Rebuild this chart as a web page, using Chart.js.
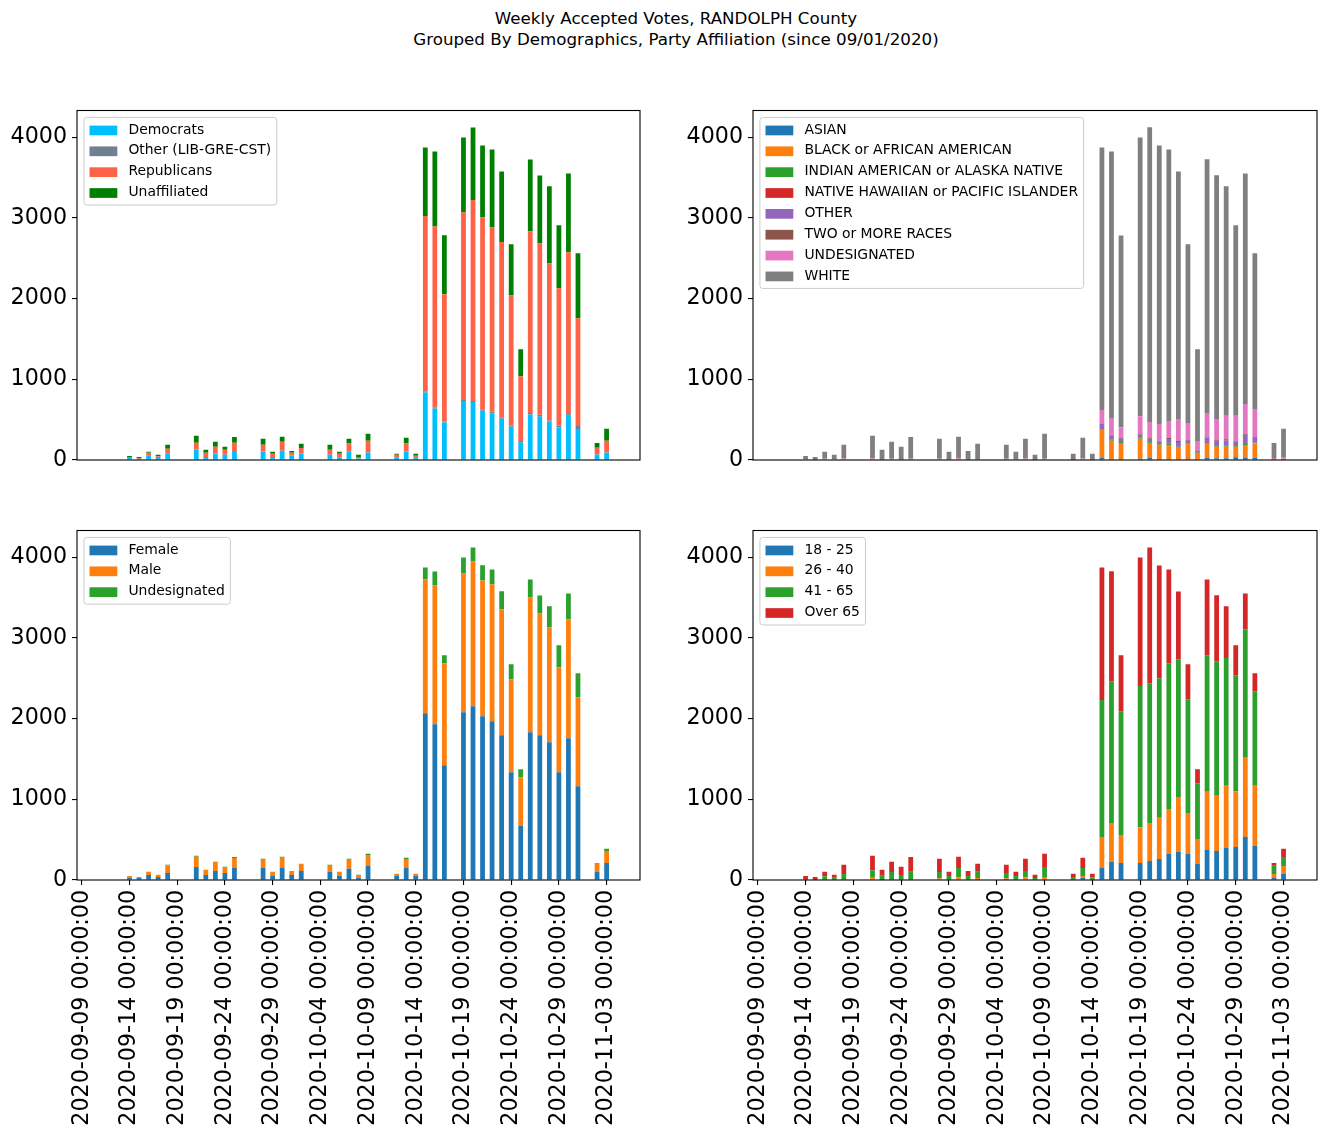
<!DOCTYPE html>
<html><head><meta charset="utf-8">
<script src="https://cdn.jsdelivr.net/npm/chart.js@4.4.0/dist/chart.umd.min.js"></script>
<style>
html,body{margin:0;padding:0;background:#fff;}
#fig{position:relative;width:1326px;height:1137px;overflow:hidden;background:#fff;font-family:"DejaVu Sans";}
canvas{position:absolute;}
.title{position:absolute;left:13px;width:1326px;text-align:center;font-size:16.7px;line-height:20px;color:#000;white-space:nowrap;}
</style></head><body>
<div id="fig">
<div class="title" style="top:8px">Weekly Accepted Votes, RANDOLPH County</div>
<div class="title" style="top:29px">Grouped By Demographics, Party Affiliation (since 09/01/2020)</div>
<canvas id="c1" width="663" height="440" style="left:0;top:50px"></canvas>
<canvas id="c2" width="663" height="440" style="left:663px;top:50px"></canvas>
<canvas id="c3" width="663" height="647" style="left:0;top:490px"></canvas>
<canvas id="c4" width="663" height="647" style="left:663px;top:490px"></canvas>
</div>
<script>
// ---------- DATA ----------
const startDate = "2020-09-09";
const dates = [
 "2020-09-14","2020-09-15","2020-09-16","2020-09-17","2020-09-18",
 "2020-09-21","2020-09-22","2020-09-23","2020-09-24","2020-09-25",
 "2020-09-28","2020-09-29","2020-09-30","2020-10-01","2020-10-02",
 "2020-10-05","2020-10-06","2020-10-07","2020-10-08","2020-10-09",
 "2020-10-12","2020-10-13","2020-10-14","2020-10-15","2020-10-16","2020-10-17",
 "2020-10-19","2020-10-20","2020-10-21","2020-10-22","2020-10-23","2020-10-24","2020-10-25",
 "2020-10-26","2020-10-27","2020-10-28","2020-10-29","2020-10-30","2020-10-31",
 "2020-11-02","2020-11-03"];
const xTickDays = [0,5,10,15,20,25,30,35,40,45,50,55];
const xTickLabels = ["2020-09-09 00:00:00","2020-09-14 00:00:00","2020-09-19 00:00:00","2020-09-24 00:00:00",
 "2020-09-29 00:00:00","2020-10-04 00:00:00","2020-10-09 00:00:00","2020-10-14 00:00:00",
 "2020-10-19 00:00:00","2020-10-24 00:00:00","2020-10-29 00:00:00","2020-11-03 00:00:00"];
const yTicks = [0,1000,2000,3000,4000];

// Party
const partyLabels = ["Democrats","Other (LIB-GRE-CST)","Republicans","Unaffiliated"];
const democrats = [25,15,60,24,85, 130,36,82,64,110, 106,36,114,56,81, 64,28,106,20,90, 33,106,28,837,639,466, 730,718,610,577,511,412,219, 565,536,478,404,561,384, 66,90];
const otherParty = [0,0,1,0,1, 2,1,1,1,2, 1,0,2,1,1, 1,0,1,0,2, 0,1,0,12,12,8, 12,12,16,20,16,16,16, 16,25,8,21,21,37, 1,4];
const republicans = [11,11,29,24,53, 82,53,81,61,101, 82,40,110,32,68, 61,50,98,16,148, 31,96,24,2173,2243,1580, 2326,2491,2380,2286,2174,1613,804, 2252,2124,1951,1703,1992,1336, 85,144];
const unaffiliated = [14,12,13,16,49, 86,36,61,37,72, 73,25,62,24,52, 62,25,57,28,86, 12,74,24,850,929,730, 928,899,891,965,874,631,334, 891,841,953,779,977,804, 60,148];

// Race
const raceLabels = ["ASIAN","BLACK or AFRICAN AMERICAN","INDIAN AMERICAN or ALASKA NATIVE","NATIVE HAWAIIAN or PACIFIC ISLANDER","OTHER","TWO or MORE RACES","UNDESIGNATED","WHITE"];
const asian = [0,0,0,0,0, 0,0,0,0,0, 0,0,0,0,0, 0,0,0,0,0, 0,0,0,25,12,12, 16,25,12,12,12,12,8, 25,21,21,33,25,25, 2,4];
const black = [8,2,8,6,12, 14,4,8,4,6, 10,4,14,4,4, 6,6,10,2,10, 4,10,2,346,227,198, 247,186,173,173,140,190,78, 177,144,144,132,161,181, 6,12];
const indian = [0,0,0,0,0, 0,0,0,0,0, 0,0,0,0,0, 0,0,0,0,0, 0,0,0,8,12,12, 12,8,8,16,12,8,4, 8,8,12,8,12,8, 0,0];
const hawaiian = [0,0,0,0,0, 0,0,0,0,0, 0,0,0,0,0, 0,0,0,0,0, 0,0,0,1,1,0, 1,1,1,1,1,0,0, 1,1,1,1,1,1, 0,0];
const otherRace = [0,0,0,0,0, 0,0,0,0,2, 0,0,0,0,0, 0,0,2,0,0, 0,0,0,66,54,41, 41,41,37,58,58,29,21, 70,66,66,58,111,58, 0,0];
const twoPlus = [0,0,0,0,0, 0,0,0,0,0, 0,0,0,0,0, 0,0,0,0,0, 0,0,0,4,8,12, 12,8,8,12,12,8,4, 8,8,12,8,8,8, 0,0];
const undesRace = [2,0,6,2,8, 4,4,6,2,6, 6,6,10,4,4, 8,4,8,2,4, 0,8,0,169,206,132, 214,202,206,210,272,210,120, 285,260,293,309,375,351, 16,20];
const white = [40,36,89,56,168, 282,118,211,157,271, 246,91,264,105,194, 174,93,242,60,312, 72,259,74,3254,3303,2375, 3452,3650,3452,3365,3068,2215,1138, 3151,3019,2841,2359,2858,1930, 188,350];

// Gender
const genderLabels = ["Female","Male","Undesignated"];
const female = [25,24,62,38,87, 162,63,112,87,148, 150,50,150,62,112, 100,50,138,25,174, 50,150,50,2066,1930,1423, 2078,2153,2029,1967,1794,1336,668, 1831,1794,1707,1336,1757,1163, 100,210];
const male = [25,14,41,26,93, 126,63,112,75,125, 100,51,126,50,88, 76,52,112,27,136, 26,102,26,1658,1720,1262, 1720,1794,1683,1695,1559,1151,606, 1670,1509,1423,1299,1472,1101, 100,140];
const undesGender = [0,0,0,0,8, 12,0,1,1,12, 12,0,12,1,2, 12,1,12,12,16, 0,25,0,148,173,99, 198,173,186,186,223,186,99, 223,223,260,272,322,297, 12,36];

// Age
const ageLabels = ["18 - 25","26 - 40","41 - 65","Over 65"];
const age18 = [0,0,4,2,4, 8,2,4,2,4, 6,2,6,2,4, 4,4,6,4,8, 2,25,4,148,223,210, 210,235,260,326,346,326,202, 371,359,396,408,532,421, 25,74];
const age26 = [2,0,4,4,4, 20,2,8,4,8, 16,4,24,6,20, 16,8,26,4,30, 6,25,4,384,483,346, 445,470,511,553,672,503,305, 722,685,771,693,982,746, 50,99];
const age41 = [8,4,37,22,66, 90,48,88,55,90, 78,45,120,42,78, 66,38,80,18,124, 28,100,22,1699,1757,1534, 1749,1732,1728,1806,1716,1410,693, 1691,1666,1584,1435,1592,1171, 100,111];
const age65 = [40,34,58,36,114, 182,74,125,102,183, 162,50,138,63,100, 102,53,150,38,164, 40,127,46,1641,1361,693, 1592,1683,1398,1163,841,433,173, 940,817,639,371,445,223, 37,102];

const partyColors = ["#00BFFF","#708090","#FF6347","#008000"];
const tab10 = ["#1f77b4","#ff7f0e","#2ca02c","#d62728","#9467bd","#8c564b","#e377c2","#7f7f7f"];

// ---------- CHARTS ----------
const FONT = '"DejaVu Sans"';
const dayMs = 86400000;
function dayIndex(d){ return Math.round((Date.parse(d+"T00:00:00Z") - Date.parse(startDate+"T00:00:00Z"))/dayMs); }

const framePlugin = {
  id: 'frameLegend',
  afterDatasetsDraw(chart){
    const {ctx, chartArea:a} = chart;
    ctx.save();
    ctx.strokeStyle = '#000'; ctx.lineWidth = 1.1;
    ctx.strokeRect(a.left, a.top, a.right-a.left, a.bottom-a.top);
    ctx.restore();
  },
  afterDraw(chart){
    const {ctx, chartArea:a} = chart;
    const ds = chart.data.datasets;
    const F = 13.9, pad = 0.4*F, hl = 2*F, hh = 0.7*F, htp = 0.8*F, ls = 0.5*F, bap = 0.5*F;
    ctx.save();
    ctx.font = F + 'px ' + FONT;
    let maxW = 0;
    ds.forEach(d => { maxW = Math.max(maxW, ctx.measureText(d.label).width); });
    const bx = a.left + bap, by = a.top + bap;
    const bw = pad + hl + htp + maxW + pad;
    const bh = 2*pad + ds.length*F + (ds.length-1)*ls;
    ctx.beginPath();
    ctx.roundRect(bx, by, bw, bh, 2.8);
    ctx.fillStyle = 'rgba(255,255,255,0.8)';
    ctx.fill();
    ctx.strokeStyle = '#cccccc'; ctx.lineWidth = 1;
    ctx.stroke();
    ds.forEach((d, i) => {
      const cy = by + pad + i*(F+ls) + F/2;
      ctx.fillStyle = d.backgroundColor;
      ctx.fillRect(bx+pad, cy - hh/2 + 0.5, hl, hh);
      ctx.fillStyle = '#000';
      ctx.textBaseline = 'middle';
      ctx.textAlign = 'left';
      ctx.fillText(d.label, bx+pad+hl+htp, cy);
    });
    ctx.restore();
  }
};

function makeChart(id, labels, series, colors, cfg){
  const datasets = series.map((vals, i) => ({
    label: labels[i],
    data: vals.map((v, j) => ({x: dayIndex(dates[j]), y: v})),
    backgroundColor: colors[i],
    borderWidth: 0,
    barPercentage: 0.5,
    categoryPercentage: 1.0
  }));
  const xScale = {
    type: 'linear', stacked: true, min: -0.5, max: 58.5, offset: false,
    afterBuildTicks(s){ s.ticks = xTickDays.map(v => ({value: v})); },
    grid: { display: cfg.showX, drawOnChartArea: false, drawTicks: true, tickLength: 5, color: '#000', lineWidth: 1.1, offset: false },
    border: { display: false },
    ticks: {
      display: cfg.showX, autoSkip: false, minRotation: 90, maxRotation: 90, padding: 5, color: '#000',
      font: { family: FONT, size: 22.2 },
      callback(v){ const k = xTickDays.indexOf(v); return k >= 0 ? xTickLabels[k] : ''; }
    },
    afterFit(s){ s.height = cfg.showX ? 257 : 0; }
  };
  if (!cfg.showX) xScale.display = false;
  new Chart(document.getElementById(id), {
    type: 'bar',
    data: { datasets },
    options: {
      responsive: false, animation: false, devicePixelRatio: 1,
      layout: { padding: cfg.padding },
      plugins: { legend: { display: false }, tooltip: { enabled: false }, title: { display: false } },
      scales: {
        x: xScale,
        y: {
          type: 'linear', stacked: true, min: 0, max: 4330,
          afterBuildTicks(s){ s.ticks = yTicks.map(v => ({value: v})); },
          grid: { drawOnChartArea: false, drawTicks: true, tickLength: 5, color: '#000', lineWidth: 1.1 },
          border: { display: false },
          ticks: { padding: 5, color: '#000', font: { family: FONT, size: 22.2 }, callback(v){ return String(v); } },
          afterFit(s){ s.width = cfg.yWidth; }
        }
      }
    },
    plugins: [framePlugin]
  });
}

makeChart('c1', partyLabels, [democrats, otherParty, republicans, unaffiliated], partyColors,
  { showX: false, yWidth: 77, padding: { top: 60.5, right: 23, bottom: 30, left: 0 } });
makeChart('c2', raceLabels, [asian, black, indian, hawaiian, otherRace, twoPlus, undesRace, white], tab10,
  { showX: false, yWidth: 90, padding: { top: 60.5, right: 9, bottom: 30, left: 0 } });
makeChart('c3', genderLabels, [female, male, undesGender], tab10.slice(0,3),
  { showX: true, yWidth: 77, padding: { top: 40.5, right: 23, bottom: 0, left: 0 } });
makeChart('c4', ageLabels, [age18, age26, age41, age65], tab10.slice(0,4),
  { showX: true, yWidth: 90, padding: { top: 40.5, right: 9, bottom: 0, left: 0 } });
</script>
</body></html>
